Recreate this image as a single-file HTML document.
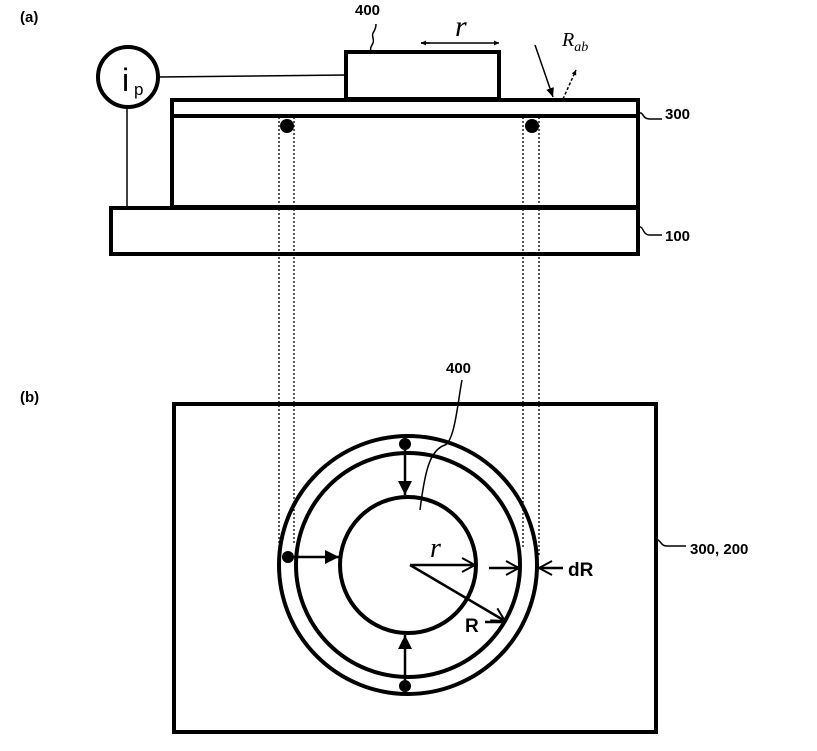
<!DOCTYPE html>
<html><head><style>body{margin:0;background:#fff}svg{display:block}</style></head><body>
<svg width="817" height="751" viewBox="0 0 817 751" xmlns="http://www.w3.org/2000/svg">
<defs>
<marker id="ah" markerWidth="10" markerHeight="10" refX="9" refY="5" orient="auto" markerUnits="userSpaceOnUse"><path d="M0,1 L9,5 L0,9 Z" fill="#000"/></marker>
<marker id="sm" markerWidth="6" markerHeight="6" refX="5" refY="3" orient="auto" markerUnits="userSpaceOnUse"><path d="M0,0.5 L5,3 L0,5.5 Z" fill="#000"/></marker>
<marker id="op" markerWidth="16" markerHeight="16" refX="14" refY="8" orient="auto" markerUnits="userSpaceOnUse"><path d="M1,1 L14,8 L1,15" fill="none" stroke="#000" stroke-width="2"/></marker>
<marker id="fb" markerWidth="16" markerHeight="16" refX="14" refY="8" orient="auto" markerUnits="userSpaceOnUse"><path d="M0,1 L14,8 L0,15 Z" fill="#000"/></marker>
</defs>
<g font-family="Liberation Sans, sans-serif" font-weight="bold" font-size="15">
<text x="20" y="22">(a)</text><text x="20" y="402">(b)</text>
<text x="355" y="15">400</text><text x="446" y="373">400</text>
<text x="665" y="119">300</text><text x="665" y="241">100</text><text x="690" y="554">300, 200</text>
</g>
<!-- dotted lines -->
<g stroke="#000" stroke-width="1.3" stroke-dasharray="2,2">
<line x1="279" y1="117" x2="279" y2="556"/><line x1="294" y1="117" x2="294" y2="545"/>
<line x1="523" y1="117" x2="523" y2="548"/><line x1="539" y1="117" x2="539" y2="556"/>
</g>
<g fill="none" stroke="#000" stroke-width="4">
<rect x="346" y="52" width="153" height="47" fill="#fff"/>
<rect x="172" y="100" width="466" height="107" fill="none"/>
<line x1="172" y1="116" x2="638" y2="116"/>
<rect x="111" y="208" width="527" height="46"/>
<circle cx="128" cy="77" r="30" fill="#fff"/>
<rect x="174" y="404" width="482" height="328"/>
<circle cx="408" cy="565" r="129"/>
<circle cx="408" cy="565" r="112"/>
<circle cx="408" cy="565" r="68"/>
</g>
<g stroke="#000" stroke-width="1.5" fill="none">
<line x1="158" y1="77" x2="346" y2="75"/>
<line x1="127" y1="107" x2="127" y2="207"/>
<path d="M371,52 C369,45 375,45 373,38 C371,32 376,32 376,24"/>
<path d="M639,113 C644,112 642,119 650,119 L662,119"/>
<path d="M639,227 C644,226 642,235 650,235 L662,235"/>
<path d="M656,540 C661,539 660,546 667,546 L686,546"/>
<path d="M420,510 C425,470 430,450 445,445 C455,440 458,400 462,380"/>
</g>
<g stroke="#000" stroke-width="1.5">
<line x1="421" y1="43" x2="499" y2="43" marker-end="url(#sm)"/>
<line x1="430" y1="43" x2="421" y2="43" marker-end="url(#sm)"/>
<line x1="535" y1="45" x2="553" y2="97" marker-end="url(#ah)"/>
<line x1="563" y1="99" x2="576" y2="70" stroke-dasharray="3,2" marker-end="url(#sm)"/>
</g>
<text x="122" y="91" font-family="Liberation Sans, sans-serif" font-size="32">i</text>
<text x="134" y="95" font-family="Liberation Sans, sans-serif" font-size="17">p</text>
<text x="455" y="36" font-family="Liberation Serif, serif" font-style="italic" font-size="30">r</text>
<text x="562" y="46" font-family="Liberation Serif, serif" font-style="italic" font-size="20">R<tspan font-size="14" dy="5">ab</tspan></text>
<g fill="#000"><circle cx="287" cy="126" r="7"/><circle cx="532" cy="126" r="7"/>
<circle cx="405" cy="444" r="6"/><circle cx="288" cy="557" r="6"/><circle cx="405" cy="686" r="6"/></g>
<g stroke="#000" stroke-width="2.5">
<line x1="405" y1="450" x2="405" y2="495" marker-end="url(#fb)"/>
<line x1="294" y1="557" x2="339" y2="557" marker-end="url(#fb)"/>
<line x1="405" y1="680" x2="405" y2="635" marker-end="url(#fb)"/>
<line x1="410" y1="565" x2="475" y2="565" marker-end="url(#op)"/>
<line x1="410" y1="565" x2="505" y2="621" marker-end="url(#op)"/>
<line x1="485" y1="622" x2="502" y2="622"/>
<line x1="489" y1="568" x2="519" y2="568" marker-end="url(#op)"/>
<line x1="563" y1="568" x2="539" y2="568" marker-end="url(#op)"/>
</g>
<text x="430" y="557" font-family="Liberation Serif, serif" font-style="italic" font-size="28">r</text>
<text x="465" y="632" font-family="Liberation Sans, sans-serif" font-weight="bold" font-size="19">R</text>
<text x="568" y="576" font-family="Liberation Sans, sans-serif" font-weight="bold" font-size="19">dR</text>
</svg>
</body></html>
